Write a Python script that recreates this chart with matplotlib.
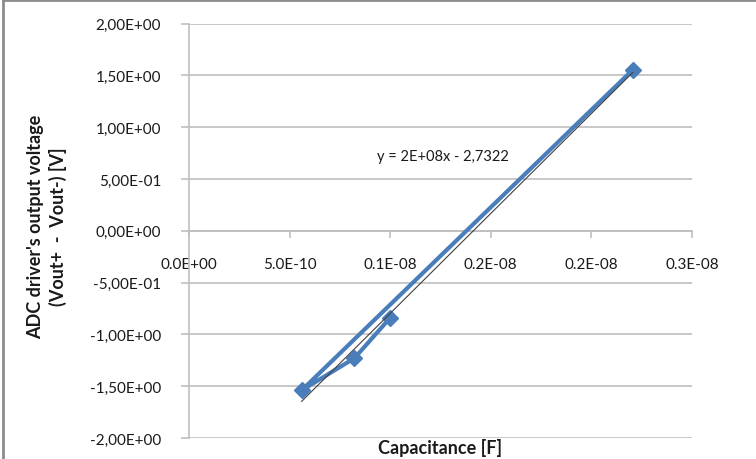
import numpy as np
import matplotlib
matplotlib.use("Agg")
import matplotlib.pyplot as plt
from matplotlib.lines import Line2D

plt.rcParams['font.family'] = ['Lato', 'DejaVu Sans']

# Measured points, in acquisition order
capacitance = [2.205e-9, 0.56e-9, 0.822e-9, 1.0e-9]
voltage = [1.552, -1.54, -1.23, -0.84]

x_ticks = [0.0, 5e-10, 1e-9, 1.5e-9, 2e-9, 2.5e-9]
x_tick_labels = ["0.0E+00", "5.0E-10", "0.1E-08", "0.2E-08", "0.2E-08", "0.3E-08"]
y_ticks = [2.0, 1.5, 1.0, 0.5, 0.0, -0.5, -1.0, -1.5, -2.0]
y_tick_labels = ["2,00E+00", "1,50E+00", "1,00E+00", "5,00E-01", "0,00E+00",
                 "-5,00E-01", "-1,00E+00", "-1,50E+00", "-2,00E+00"]
equation_text = "y = 2E+08x - 2,7322"

blue = "#4a7ebb"
grid_gray = "#bfbfbf"
text_color = "#1a1a1a"

fig = plt.figure(figsize=(7.56, 4.60), dpi=100)
ax = fig.add_axes([189 / 756, 1 - 439 / 460, (692 - 189) / 756, (439 - 24.5) / 460])

ax.set_xlim(0, 2.5e-9)
ax.set_ylim(-2, 2)

# horizontal gridlines
for yv in y_ticks:
    ax.axhline(yv, color=grid_gray, lw=1.2, zorder=0)

# series line with diamond markers
ax.plot(capacitance, voltage, color=blue, lw=3, marker="D", markersize=8,
        markerfacecolor=blue, markeredgecolor=blue, solid_joinstyle="round",
        zorder=3)

# linear trendline over the data range
xs = np.array(capacitance)
ys = np.array(voltage)
slope, intercept = np.polyfit(xs, ys, 1)
xt = np.array([xs.min(), xs.max()])
ax.plot(xt, slope * xt + intercept, color="#404040", lw=0.8, zorder=4)

ax.text(377 / 756, 1 - 157 / 460, equation_text, transform=fig.transFigure,
        fontsize=10.5, color=text_color, ha="left", va="center")

# axes styling
for s in ["top", "right"]:
    ax.spines[s].set_visible(False)
ax.spines["left"].set_color(grid_gray)
ax.spines["left"].set_linewidth(1.2)
ax.spines["bottom"].set_position(("data", 0))
ax.spines["bottom"].set_color(grid_gray)
ax.spines["bottom"].set_linewidth(1.2)

ax.set_xticks(x_ticks)
ax.set_xticklabels(x_tick_labels)
ax.set_yticks(y_ticks)
ax.set_yticklabels(y_tick_labels)
ax.tick_params(axis="x", direction="out", length=5, width=1.2, color=grid_gray,
               labelsize=11, labelcolor=text_color, pad=14)
ax.tick_params(axis="y", direction="out", length=6, width=1.2, color=grid_gray,
               labelsize=11, labelcolor=text_color, pad=14)

fig.text(440 / 756, 1 - 448 / 460, "Capacitance [F]", fontsize=13, fontweight="bold",
         color=text_color, ha="center", va="center")
fig.text(47 / 756, 1 - 227 / 460, "ADC driver's output voltage\n(Vout+  -  Vout-) [V]",
         fontsize=13, fontweight="bold", color=text_color, ha="center",
         va="center", rotation=90, linespacing=1.3)

# outer chart frame
fig.add_artist(Line2D([3 / 756, 3 / 756], [0, 1 - 1 / 460], transform=fig.transFigure,
                      color="#8c8c8c", lw=2))
fig.add_artist(Line2D([3 / 756, 1], [1 - 1 / 460, 1 - 1 / 460], transform=fig.transFigure,
                      color="#8c8c8c", lw=2))

fig.savefig("out.png", dpi=100)
